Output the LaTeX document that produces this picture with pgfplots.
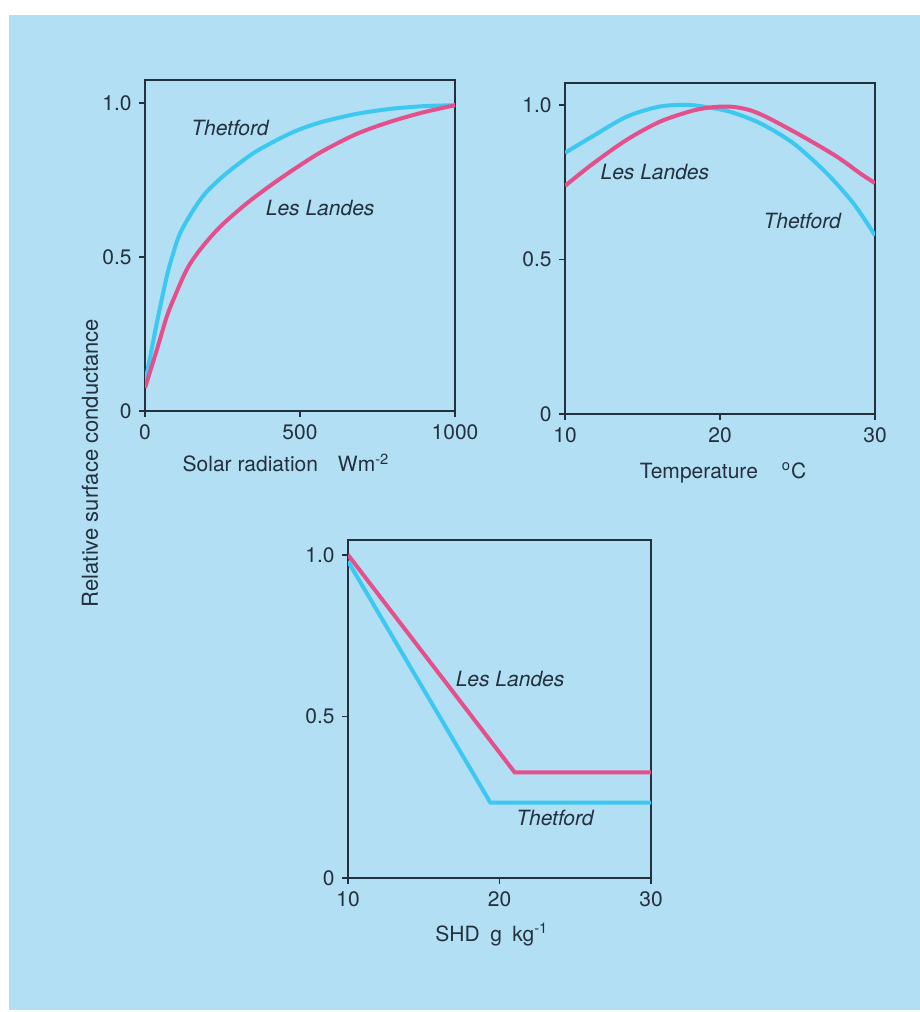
\documentclass[border=0pt]{standalone}
\usepackage{pgfplots}
\pgfplotsset{compat=1.18}
\usepackage{fontspec}
\setmainfont{TeX Gyre Heros}
\definecolor{bg}{RGB}{178,223,243}
\definecolor{cy}{RGB}{60,200,240}
\definecolor{mg}{RGB}{228,80,140}
\definecolor{ink}{RGB}{35,48,62}
\begin{document}
\fontsize{10.5}{12}\selectfont
\begin{tikzpicture}
\fill[white] (0pt,0pt) rectangle (460pt,506pt);
\fill[bg] (4.5pt,1pt) rectangle (460pt,498.5pt);
\pgfplotsset{every axis/.append style={
  scale only axis, anchor=south west,
  axis line style={ink, line width=1.1pt},
  tick style={ink, line width=0.8pt}, tick align=outside, major tick length=3pt,
  xtick pos=left, ytick pos=left,
  ymin=0, ytick={0,0.5,1}, yticklabels={0,0.5,1.0},
  ticklabel style={font=\fontsize{10.5}{12}\selectfont, text=ink},
  /pgf/number format/assume math mode=true,
  label style={font=\fontsize{10.5}{12}\selectfont, text=ink},
  every axis plot/.append style={line width=2pt, no markers},
}}
% Plot 1
\begin{axis}[at={(72.5pt,300.5pt)}, width=155pt, height=165.5pt,
  xmin=0, xmax=1000, ymax=1.075,
  xtick={0,500,1000}, xticklabels={0,500,1000},
  xlabel={Solar radiation\hspace{10pt}Wm\textsuperscript{-2}},
  xlabel style={at={(axis description cs:0.455,0)}, anchor=center, yshift=-26pt}]
\addplot[cy, smooth] coordinates {(0,0.09) (6,0.12) (38,0.285) (70,0.436) (91,0.512) (113,0.577) (156,0.653) (199,0.712) (263,0.772) (349,0.837) (435,0.885) (500,0.915) (575,0.940) (683,0.965) (790,0.981) (898,0.990) (1000,0.993)};
\addplot[mg, smooth] coordinates {(0,0.075) (38,0.198) (70,0.306) (91,0.36) (134,0.458) (177,0.523) (242,0.598) (328,0.674) (414,0.739) (500,0.798) (575,0.845) (683,0.90) (790,0.939) (898,0.970) (1000,0.993)};
\node[text=ink, font=\itshape] at (axis cs:274,0.92) {Thetford};
\node[text=ink, font=\itshape] at (axis cs:565,0.66) {Les Landes};
\end{axis}
% Plot 2
\begin{axis}[at={(282.5pt,299pt)}, width=155pt, height=165.5pt,
  xmin=10, xmax=30, ymax=1.071,
  xtick={10,20,30}, xticklabels={10,20,30},
  xlabel={Temperature\hspace{12pt}\textsuperscript{o}C},
  xlabel style={at={(axis description cs:0.51,0)}, anchor=center, yshift=-29.5pt}]
\addplot[cy, smooth] coordinates {(10,0.845) (11.83,0.900) (13.98,0.962) (16.13,0.995) (18.0,1.0) (19.35,0.991) (20.65,0.978) (22.58,0.941) (24.73,0.876) (26.88,0.779) (28.6,0.682) (30,0.578)};
\addplot[mg, smooth] coordinates {(10,0.738) (11.83,0.811) (13.98,0.887) (16.13,0.946) (18.28,0.982) (19.6,0.993) (20.8,0.994) (22,0.982) (23.23,0.955) (25.37,0.897) (27.53,0.833) (29.03,0.779) (30,0.747)};
\node[text=ink, font=\itshape] at (axis cs:15.8,0.783) {Les Landes};
\node[text=ink, font=\itshape] at (axis cs:25.3,0.626) {Thetford};
\end{axis}
% Plot 3
\begin{axis}[at={(174pt,67pt)}, width=151.5pt, height=169pt,
  xmin=10, xmax=30, ymax=1.046,
  xtick={10,20,30}, xticklabels={10,20,30},
  xlabel={SHD\enspace g\enspace kg\textsuperscript{-1}},
  xlabel style={at={(axis description cs:0.475,0)}, anchor=center, yshift=-28.5pt}]
\addplot[mg] coordinates {(10,1.0) (21.0,0.327) (30,0.327)};
\addplot[cy] coordinates {(10,0.98) (19.4,0.233) (30,0.233)};
\node[text=ink, font=\itshape] at (axis cs:20.7,0.615) {Les Landes};
\node[text=ink, font=\itshape] at (axis cs:23.66,0.185) {Thetford};
\end{axis}
\node[rotate=90, text=ink, font=\fontsize{11}{13}\selectfont] at (45pt,274.5pt) {Relative surface conductance};
\end{tikzpicture}
\end{document}
